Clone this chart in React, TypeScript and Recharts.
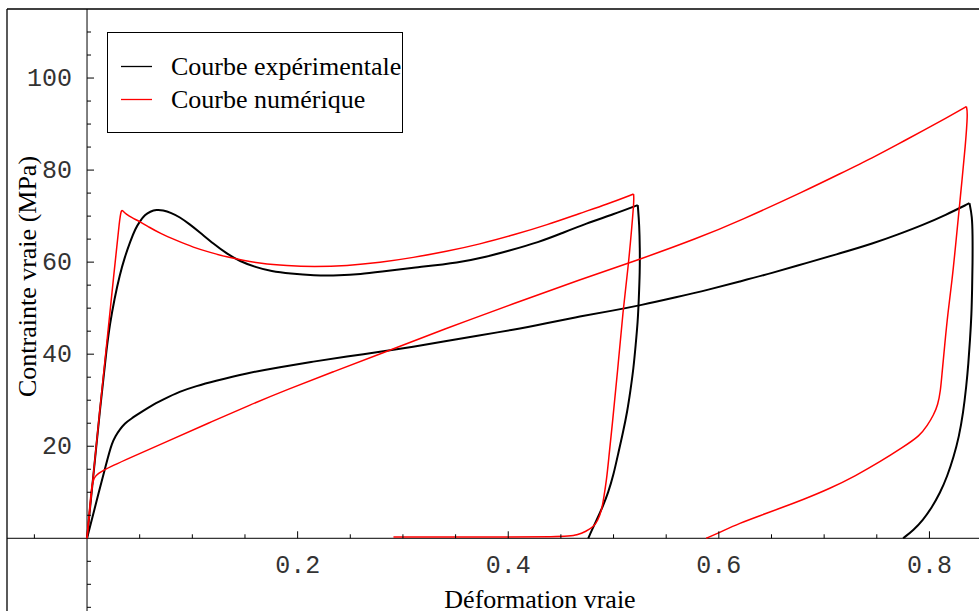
import React from 'react';
import { LineChart, Line, XAxis, YAxis, ReferenceLine, ReferenceDot, Legend } from 'recharts';

// Courbe expérimentale, essai 1 (charge puis décharge)
const exp1Load = [
  [0, 0], [0.0136, 31], [0.019, 42], [0.0217, 46.5], [0.026, 52], [0.031, 57.2], [0.036, 61.2],
  [0.041, 64.5], [0.046, 67.3], [0.05, 68.8], [0.055, 70.3], [0.06, 71], [0.066, 71.4], [0.072, 71.3],
  [0.08, 70.7], [0.088, 69.8], [0.097, 68.3], [0.107, 66.5], [0.12, 64], [0.133, 61.8], [0.145, 60.2],
  [0.16, 58.9], [0.175, 58], [0.193, 57.5], [0.215, 57.1], [0.24, 57.1], [0.26, 57.4], [0.278, 57.9],
  [0.31, 58.8], [0.354, 59.9], [0.38, 61.2], [0.398, 62.3], [0.43, 64.4], [0.45, 66.2], [0.474, 68.4],
  [0.5, 70.4], [0.523, 72.4],
];
const exp1Unload = [
  [0.523, 72.4], [0.5245, 68], [0.525, 63], [0.525, 58], [0.524, 52], [0.523, 47], [0.521, 42],
  [0.519, 37], [0.516, 32], [0.513, 27.5], [0.509, 23], [0.505, 19], [0.4997, 13.5], [0.495, 10],
  [0.49, 7], [0.484, 4], [0.479, 1.6], [0.476, 0],
];

// Courbe expérimentale, essai 2
const exp2Load = [
  [0, 0], [0.0205, 18.3], [0.0235, 20.5], [0.027, 22.2], [0.031, 23.6], [0.036, 25], [0.042, 26],
  [0.05, 27.2], [0.06, 28.7], [0.072, 30.1], [0.088, 31.9], [0.104, 33.1], [0.12, 34.1], [0.152, 35.9],
  [0.183, 37.2], [0.215, 38.4], [0.247, 39.5], [0.278, 40.5], [0.31, 41.6], [0.34, 42.8], [0.37, 44],
  [0.405, 45.3], [0.436, 46.7], [0.468, 48.2], [0.5, 49.5], [0.525, 50.6], [0.56, 52.4], [0.59, 54],
  [0.62, 55.8], [0.65, 57.6], [0.683, 59.8], [0.715, 61.9], [0.747, 64.1], [0.77, 66], [0.794, 68.1],
  [0.815, 70.2], [0.838, 72.8],
];
const exp2Unload = [
  [0.838, 72.8], [0.8405, 70], [0.841, 66], [0.841, 60], [0.8405, 54], [0.84, 48.9], [0.8385, 43],
  [0.837, 38], [0.835, 33], [0.832, 27.2], [0.828, 22], [0.823, 17.7], [0.817, 13.5], [0.81, 9.8],
  [0.802, 6.6], [0.794, 4], [0.785, 1.8], [0.775, 0],
];

// Courbe numérique, essai 1
const num1Load = [
  [0, 0], [0.0139, 32], [0.0265, 59.5], [0.031, 69.5], [0.0325, 71.2], [0.0335, 71.3], [0.037, 70.4],
  [0.043, 69.6], [0.05, 68.8], [0.059, 67.6], [0.069, 66.3], [0.085, 64.7], [0.101, 63.2], [0.117, 62.1],
  [0.133, 61.1], [0.148, 60.4], [0.164, 59.7], [0.19, 59.2], [0.215, 59], [0.247, 59.2], [0.278, 59.9],
  [0.31, 61], [0.341, 62.3], [0.373, 63.9], [0.405, 65.9], [0.437, 68.1], [0.468, 70.6], [0.494, 72.6],
  [0.519, 74.8],
];
const num1Unload = [
  [0.519, 74.8], [0.5195, 73.5], [0.5175, 68], [0.514, 59], [0.509, 49.6], [0.504, 36.6], [0.4985, 24],
  [0.4955, 17.5], [0.4934, 12.7], [0.4905, 8.5], [0.4887, 6.1], [0.485, 3.8], [0.481, 2.5], [0.474, 1.5],
  [0.465, 0.7], [0.457, 0.3], [0.35, 0.25], [0.291, 0.3],
];

// Courbe numérique, essai 2
const num2Load = [
  [0, 0], [0.003, 8], [0.0044, 11.2], [0.006, 12.6], [0.0075, 13.4], [0.0123, 14.5], [0.04, 17.4],
  [0.0756, 21], [0.115, 25], [0.155, 29], [0.19, 32.3], [0.234, 36.2], [0.278, 40], [0.341, 45.6],
  [0.405, 51], [0.468, 56.2], [0.525, 60.6], [0.58, 65.2], [0.62, 69], [0.683, 75.6], [0.715, 79.2],
  [0.747, 82.8], [0.77, 85.6], [0.794, 88.6], [0.815, 91.2], [0.835, 93.8],
];
const num2Unload = [
  [0.835, 93.8], [0.8365, 92.6], [0.834, 85], [0.831, 78], [0.828, 71], [0.825, 64], [0.8215, 56],
  [0.8175, 49], [0.8145, 42], [0.812, 36], [0.8105, 32], [0.808, 29], [0.804, 26.8], [0.798, 24.5],
  [0.791, 22.3], [0.775, 19.8], [0.753, 16.6], [0.73, 13.6], [0.7055, 10.8], [0.68, 8.4], [0.658, 6.5],
  [0.64, 5], [0.62, 3.3], [0.6, 1.2], [0.588, 0],
];

const X_MAJOR = [0.2, 0.4, 0.6, 0.8];
const X_LABELS = ['0.2', '0.4', '0.6', '0.8'];
const X_MINOR = [-0.05, 0.05, 0.1, 0.15, 0.25, 0.3, 0.35, 0.45, 0.5, 0.55, 0.65, 0.7, 0.75, 0.85];
const Y_MAJOR = [20, 40, 60, 80, 100];
const Y_LABELS = ['20', '40', '60', '80', '100'];
const Y_MINOR = [-15, -10, -5, 5, 10, 15, 25, 30, 35, 45, 50, 55, 65, 70, 75, 85, 90, 95, 105, 110];

const LEGEND_ITEMS = [
  { label: 'Courbe expérimentale', color: '#000000' },
  { label: 'Courbe numérique', color: '#ff0000' },
];

const BLACK = '#000000';
const RED = '#ff0000';

const SERIES = [
  { id: 'exp1Load', data: exp1Load, color: BLACK, width: 2 },
  { id: 'exp1Unload', data: exp1Unload, color: BLACK, width: 2 },
  { id: 'exp2Load', data: exp2Load, color: BLACK, width: 2 },
  { id: 'exp2Unload', data: exp2Unload, color: BLACK, width: 2 },
  { id: 'num1Load', data: num1Load, color: RED, width: 1.5 },
  { id: 'num1Unload', data: num1Unload, color: RED, width: 1.5 },
  { id: 'num2Load', data: num2Load, color: RED, width: 1.5 },
  { id: 'num2Unload', data: num2Unload, color: RED, width: 1.5 },
];

const toPts = (arr: number[][]) => arr.map(([x, y]) => ({ x, y }));

const TICK_FONT = '"Liberation Mono", "Courier New", monospace';
const SERIF = '"Liberation Serif", "Times New Roman", serif';

const xTick = (major: boolean, label?: string) => (p: any) => (
  <g>
    <line x1={p.cx} x2={p.cx} y1={p.cy} y2={p.cy - (major ? 7 : 4)} stroke="#000" strokeWidth={1} />
    {label && (
      <text x={p.cx} y={p.cy + 35} textAnchor="middle" fontFamily={TICK_FONT} fontSize={25} fill="#333">
        {label}
      </text>
    )}
  </g>
);

const yTick = (major: boolean, label?: string) => (p: any) => (
  <g>
    <line x1={p.cx} x2={p.cx + (major ? 7 : 4)} y1={p.cy} y2={p.cy} stroke="#000" strokeWidth={1} />
    {label && (
      <text x={p.cx - 15} y={p.cy + 8} textAnchor="end" fontFamily={TICK_FONT} fontSize={25} fill="#333">
        {label}
      </text>
    )}
  </g>
);

const renderLegend = () => (
  <div style={{ width: 296, height: 101, border: '1px solid #000', boxSizing: 'border-box', position: 'relative', background: '#fff' }}>
    <svg width={296} height={101} style={{ position: 'absolute', left: -1, top: -1, overflow: 'visible' }}>
      {LEGEND_ITEMS.map((item, i) => (
        <g key={item.label}>
          <line x1={14} x2={45} y1={34.5 + i * 33} y2={34.5 + i * 33} stroke={item.color} strokeWidth={1.3} />
          <text x={64} y={43 + i * 33} fontFamily={SERIF} fontSize={26} fill="#000">
            {item.label}
          </text>
        </g>
      ))}
    </svg>
  </div>
);

const App = () => {
  const xMin = -0.076;
  const yMax = 115;
  return (
    <div style={{ position: 'absolute', left: 0, top: 0, width: 979, height: 611, overflow: 'hidden', background: '#fff' }}>
      <LineChart width={1000} height={640} margin={{ top: 9, left: 7, right: 0, bottom: 0 }}>
        <XAxis type="number" dataKey="x" domain={[xMin, 0.867]} allowDataOverflow hide />
        <YAxis type="number" dataKey="y" domain={[-22.1, yMax]} allowDataOverflow hide />
        {/* cadre */}
        <ReferenceLine x={xMin} stroke="#000" strokeWidth={1.3} />
        <ReferenceLine y={yMax} stroke="#000" strokeWidth={1.3} />
        {/* axes passant par l'origine */}
        <ReferenceLine x={0} stroke="#000" strokeWidth={1} />
        <ReferenceLine y={0} stroke="#000" strokeWidth={1} />
        {X_MINOR.map(v => (
          <ReferenceDot key={`xm-${v}`} x={v} y={0} r={0} shape={xTick(false)} />
        ))}
        {X_MAJOR.map((v, i) => (
          <ReferenceDot key={`xM-${v}`} x={v} y={0} r={0} shape={xTick(true, X_LABELS[i])} />
        ))}
        {Y_MINOR.map(v => (
          <ReferenceDot key={`ym-${v}`} x={0} y={v} r={0} shape={yTick(false)} />
        ))}
        {Y_MAJOR.map((v, i) => (
          <ReferenceDot key={`yM-${v}`} x={0} y={v} r={0} shape={yTick(true, Y_LABELS[i])} />
        ))}
        {SERIES.map(s => (
          <Line
            key={s.id}
            name={s.id}
            data={toPts(s.data)}
            dataKey="y"
            type="basis"
            stroke={s.color}
            strokeWidth={s.width}
            strokeLinejoin="round"
            dot={false}
            activeDot={false}
            legendType="none"
            isAnimationActive={false}
          />
        ))}
        <Legend
          layout="vertical"
          align="center"
          verticalAlign="middle"
          content={renderLegend}
          wrapperStyle={{ left: 107, top: 32, width: 296, height: 101 }}
        />
      </LineChart>
      <svg width={979} height={611} style={{ position: 'absolute', left: 0, top: 0, pointerEvents: 'none' }}>
        <text x={540} y={608} textAnchor="middle" fontFamily={SERIF} fontSize={26} fill="#000">
          Déformation vraie
        </text>
        <text transform="translate(36, 276.5) rotate(-90)" textAnchor="middle" fontFamily={SERIF} fontSize={26} fill="#000">
          Contrainte vraie (MPa)
        </text>
      </svg>
    </div>
  );
};

export default App;
